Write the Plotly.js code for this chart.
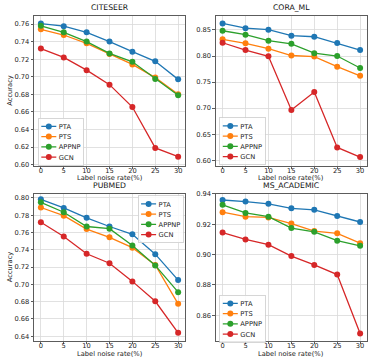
<!DOCTYPE html>
<html><head><meta charset="utf-8">
<script src="https://cdn.plot.ly/plotly-3.0.1.min.js"></script>
<style>html,body{margin:0;padding:0;background:#fff;}#chart{width:374px;height:364px;}</style>
</head><body><div id="chart"></div>
<script>
var noise = [0, 5, 10, 15, 20, 25, 30];
var methods = ["PTA", "PTS", "APPNP", "GCN"];
var colors = ["#1f77b4", "#ff7f0e", "#2ca02c", "#d62728"];
var titles = ["CITESEER", "CORA_ML", "PUBMED", "MS_ACADEMIC"];
var xTitle = "Label noise rate(%)";
var yTitle = "Accuracy";

var citeseer_PTA   = [0.7605, 0.7575, 0.7505, 0.7400, 0.7285, 0.7175, 0.6970];
var citeseer_PTS   = [0.7540, 0.7475, 0.7380, 0.7260, 0.7140, 0.6990, 0.6800];
var citeseer_APPNP = [0.7580, 0.7505, 0.7400, 0.7265, 0.7170, 0.6975, 0.6790];
var citeseer_GCN   = [0.7320, 0.7220, 0.7075, 0.6910, 0.6655, 0.6190, 0.6090];

var cora_PTA   = [0.8625, 0.8535, 0.8505, 0.8390, 0.8370, 0.8250, 0.8115];
var cora_PTS   = [0.8320, 0.8245, 0.8140, 0.8010, 0.7990, 0.7795, 0.7620];
var cora_APPNP = [0.8485, 0.8410, 0.8295, 0.8235, 0.8055, 0.8000, 0.7770];
var cora_GCN   = [0.8255, 0.8115, 0.7995, 0.6965, 0.7310, 0.6245, 0.6060];

var pubmed_PTA   = [0.7985, 0.7885, 0.7770, 0.7670, 0.7580, 0.7350, 0.7050];
var pubmed_PTS   = [0.7890, 0.7795, 0.7640, 0.7545, 0.7425, 0.7225, 0.6775];
var pubmed_APPNP = [0.7950, 0.7835, 0.7670, 0.7645, 0.7450, 0.7220, 0.6910];
var pubmed_GCN   = [0.7720, 0.7555, 0.7355, 0.7245, 0.7035, 0.6805, 0.6440];

var ms_PTA   = [0.9360, 0.9350, 0.9335, 0.9305, 0.9295, 0.9255, 0.9215];
var ms_PTS   = [0.9280, 0.9250, 0.9245, 0.9205, 0.9155, 0.9140, 0.9075];
var ms_APPNP = [0.9328, 0.9275, 0.9250, 0.9175, 0.9150, 0.9092, 0.9058];
var ms_GCN   = [0.9145, 0.9100, 0.9065, 0.8990, 0.8932, 0.8868, 0.8480];

var panels = [
  [citeseer_PTA, citeseer_PTS, citeseer_APPNP, citeseer_GCN],
  [cora_PTA, cora_PTS, cora_APPNP, cora_GCN],
  [pubmed_PTA, pubmed_PTS, pubmed_APPNP, pubmed_GCN],
  [ms_PTA, ms_PTS, ms_APPNP, ms_GCN]
];

var W = 374, H = 364;
var FONT = "DejaVu Sans";
var FS = 6.7;
var LS = 0.5; // legend scale
var traces = [];
var legendNames = ["legend", "legend2", "legend3", "legend4"];
panels.forEach(function (series, p) {
  series.forEach(function (vals, m) {
    traces.push({
      x: noise, y: vals, name: methods[m], type: "scatter", mode: "lines+markers",
      xaxis: "x" + (p === 0 ? "" : p + 1), yaxis: "y" + (p === 0 ? "" : p + 1),
      legend: legendNames[p],
      line: {color: colors[m], width: 1.3},
      marker: {color: colors[m], size: 6, symbol: "circle"}
    });
  });
});

var xdom = [[34 / W, 185 / W], [215.7 / W, 367 / W]];
var ydom = [[1 - 166 / H, 1 - 15.5 / H], [1 - 341 / H, 1 - 193.5 / H]];
var xTitleY = [1 - 178 / H, 1 - 354 / H];
var titleShift = [1, 1.5];
var yranges = [[0.5984, 0.7697], [0.5889, 0.8778], [0.6345, 0.8052], [0.8430, 0.9403]];
var ydticks = [0.02, 0.05, 0.02, 0.02];
var yt0 = [0.62, 0.60, 0.64, 0.86];

function axBase() {
  return {
    showline: true, mirror: true, linecolor: "#333", linewidth: 0.8,
    ticks: "outside", ticklen: 2.5, tickwidth: 0.8, tickcolor: "#333",
    showgrid: true, gridcolor: "#d9d9d9", gridwidth: 0.8, zeroline: false,
    tickfont: {family: FONT, size: FS, color: "#222"}, automargin: false
  };
}

var layout = {
  width: W, height: H, margin: {l: 0, r: 0, t: 0, b: 0},
  paper_bgcolor: "#fff", plot_bgcolor: "#fff", showlegend: true,
  font: {family: FONT, color: "#222"}, annotations: []
};

for (var p = 0; p < 4; p++) {
  var col = p % 2, row = Math.floor(p / 2);
  var sx = p === 0 ? "" : String(p + 1);
  var xa = axBase();
  xa.domain = xdom[col]; xa.range = [-1.5, 31.5]; xa.tickmode = "linear"; xa.tick0 = 0; xa.dtick = 5;
  xa.anchor = "y" + sx; xa.ticklabelstandoff = -4;
  var ya = axBase();
  ya.domain = ydom[row]; ya.range = yranges[p]; ya.tickmode = "linear"; ya.tick0 = yt0[p]; ya.dtick = ydticks[p];
  ya.tickformat = ".2f"; ya.anchor = "x" + sx;
  layout["xaxis" + sx] = xa;
  layout["yaxis" + sx] = ya;
  layout.annotations.push({
    text: titles[p], xref: "paper", yref: "paper",
    x: (xdom[col][0] + xdom[col][1]) / 2, y: ydom[row][1],
    xanchor: "center", yanchor: "bottom", yshift: titleShift[row], showarrow: false,
    font: {family: FONT, size: 7.7, color: "#111"}
  });
  layout.annotations.push({
    text: xTitle, xref: "paper", yref: "paper",
    x: (xdom[col][0] + xdom[col][1]) / 2, y: xTitleY[row],
    xanchor: "center", yanchor: "middle", showarrow: false,
    font: {family: FONT, size: FS, color: "#222"}
  });
  if (col === 0) {
    layout.annotations.push({
      text: yTitle, xref: "paper", yref: "paper", textangle: -90,
      x: 10 / W, y: (ydom[row][0] + ydom[row][1]) / 2,
      xanchor: "center", yanchor: "middle", showarrow: false,
      font: {family: FONT, size: FS, color: "#222"}
    });
  }
}

var legBase = function (x, y, xa, ya) {
  return {x: x, y: y, xanchor: xa, yanchor: ya, xref: "paper", yref: "paper",
    bgcolor: "rgba(255,255,255,0.85)", bordercolor: "#cccccc", borderwidth: 1.6,
    font: {family: FONT, size: FS / LS, color: "#222"}, itemwidth: 30, itemsizing: "constant",
    tracegroupgap: 0};
};
layout.legend = legBase(38 / W, 1 - 160 / H, "left", "bottom");
layout.legend2 = legBase(219.5 / W, 1 - 160 / H, "left", "bottom");
layout.legend3 = legBase(183 / W, 1 - 195 / H, "right", "top");
layout.legend4 = legBase(219.5 / W, 1 - 337 / H, "left", "bottom");

// desired legend box corners in pixels: [x, y, anchor]
var legPos = {legend: [38, 118, "left"], legend2: [219.5, 117.5, "left"],
              legend3: [183, 195.5, "right"], legend4: [219.5, 295, "left"]};

Plotly.newPlot("chart", traces, layout, {displayModeBar: false, staticPlot: true}).then(function (gd) {
  Object.keys(legPos).forEach(function (id) {
    var g = gd.querySelector("g." + id);
    if (!g) return;
    var bg = g.querySelector("rect.bg");
    var w = bg ? parseFloat(bg.getAttribute("width")) : 0;
    var pos = legPos[id];
    var x = pos[2] === "right" ? pos[0] - w * LS : pos[0];
    g.setAttribute("transform", "translate(" + x + "," + pos[1] + ") scale(" + LS + ")");
    g.querySelectorAll(".legendlines path").forEach(function (pth) {
      pth.style.strokeWidth = (1.3 / LS) + "px";
    });
  });
});
</script>
</body></html>
